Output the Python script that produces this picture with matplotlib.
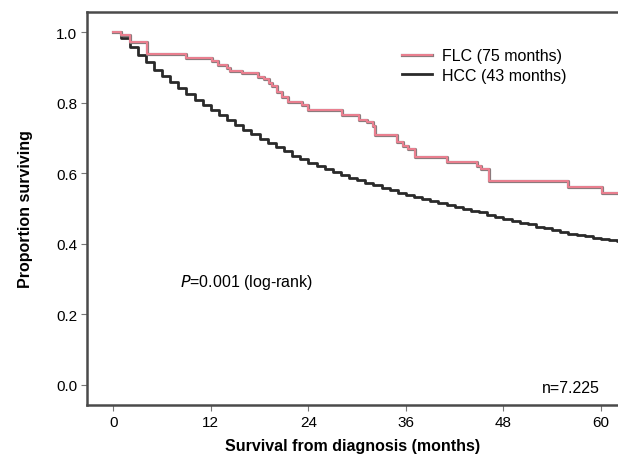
import numpy as np
import matplotlib
matplotlib.use('Agg')
import matplotlib.pyplot as plt
import matplotlib.patheffects as pe

plt.rcParams['font.family'] = ['Liberation Sans', 'DejaVu Sans']

# Kaplan-Meier curves (months, proportion surviving)
flc_months = [0, 1.0, 2.1, 4.1, 9.0, 12.2, 12.9, 14.0, 14.4, 15.8, 17.8, 18.5,
              19.1, 19.5, 20.1, 20.8, 21.5, 23.2, 24.0, 28.1, 30.2, 31.2, 32.0,
              32.2, 34.9, 35.6, 36.2, 37.1, 41.0, 44.8, 45.3, 46.2, 56.0, 60.1]
flc_surv = [1.0, 0.991, 0.971, 0.937, 0.926, 0.917, 0.908, 0.899, 0.890, 0.883,
            0.874, 0.866, 0.857, 0.848, 0.831, 0.815, 0.803, 0.793, 0.778, 0.765,
            0.750, 0.744, 0.735, 0.707, 0.688, 0.678, 0.668, 0.646, 0.631, 0.620,
            0.612, 0.579, 0.560, 0.545]

hcc_months = list(range(0, 63))
hcc_surv = [1.0, 0.982, 0.957, 0.935, 0.914, 0.894, 0.875, 0.858, 0.841, 0.825,
            0.808, 0.793, 0.779, 0.764, 0.750, 0.736, 0.723, 0.710, 0.698, 0.686,
            0.674, 0.662, 0.650, 0.640, 0.630, 0.620, 0.612, 0.603, 0.595, 0.587,
            0.580, 0.573, 0.566, 0.559, 0.552, 0.545, 0.538, 0.532, 0.527, 0.521,
            0.515, 0.509, 0.504, 0.499, 0.494, 0.489, 0.482, 0.476, 0.471, 0.465,
            0.460, 0.455, 0.449, 0.444, 0.438, 0.434, 0.429, 0.425, 0.421, 0.417,
            0.413, 0.411, 0.408]

labels = ['FLC (75 months)', 'HCC (43 months)']
x_ticks = [0, 12, 24, 36, 48, 60]
y_ticks = [0.0, 0.2, 0.4, 0.6, 0.8, 1.0]

fig = plt.figure(figsize=(6.18, 4.56), dpi=100)
ax = fig.add_axes([0.1408, 0.1096, 0.8592, 0.8619])

# extend both curves to the right edge of the plot
flc_x = flc_months + [62.5]
flc_y = flc_surv + [flc_surv[-1]]
hcc_x = hcc_months + [62.5]
hcc_y = hcc_surv + [hcc_surv[-1]]

ax.step(flc_x, flc_y, where='post', color='#ec8090', lw=1.4,
        path_effects=[pe.Stroke(linewidth=2.3, foreground='#8c7a7c'), pe.Normal()],
        label=labels[0], zorder=3)
ax.step(hcc_x, hcc_y, where='post', color='#2a2a2a', lw=2.0,
        label=labels[1], zorder=2)

ax.set_xlim(-3.24, 62.1)
ax.set_ylim(-0.057, 1.057)
ax.set_xticks(x_ticks)
ax.set_yticks(y_ticks)
ax.set_yticklabels(['%.1f' % v for v in y_ticks])

for side in ['left', 'bottom', 'top']:
    ax.spines[side].set_linewidth(1.8)
    ax.spines[side].set_color('#4a4a4a')
ax.spines['right'].set_visible(False)
ax.tick_params(direction='out', length=4, width=0.8, color='#777777',
               labelsize=11, pad=3)
ax.tick_params(top=False, right=False)

ax.set_xlabel('Survival from diagnosis (months)', fontsize=11.5, fontweight='bold',
              labelpad=7)
ax.set_ylabel('Proportion surviving', fontsize=11.5, fontweight='bold', labelpad=17)

ax.text(8.2, 0.292, '$P$=0.001 (log-rank)', fontsize=11.5, va='center', ha='left')
ax.text(59.8, -0.008, 'n=7.225', fontsize=11.5, va='center', ha='right')

leg = ax.legend(loc='upper left', bbox_to_anchor=(0.593, 0.908), frameon=False,
                fontsize=11.5, borderpad=0, borderaxespad=0, handlelength=1.9,
                handletextpad=0.63, labelspacing=0.3)

fig.savefig('out.png', dpi=100)
